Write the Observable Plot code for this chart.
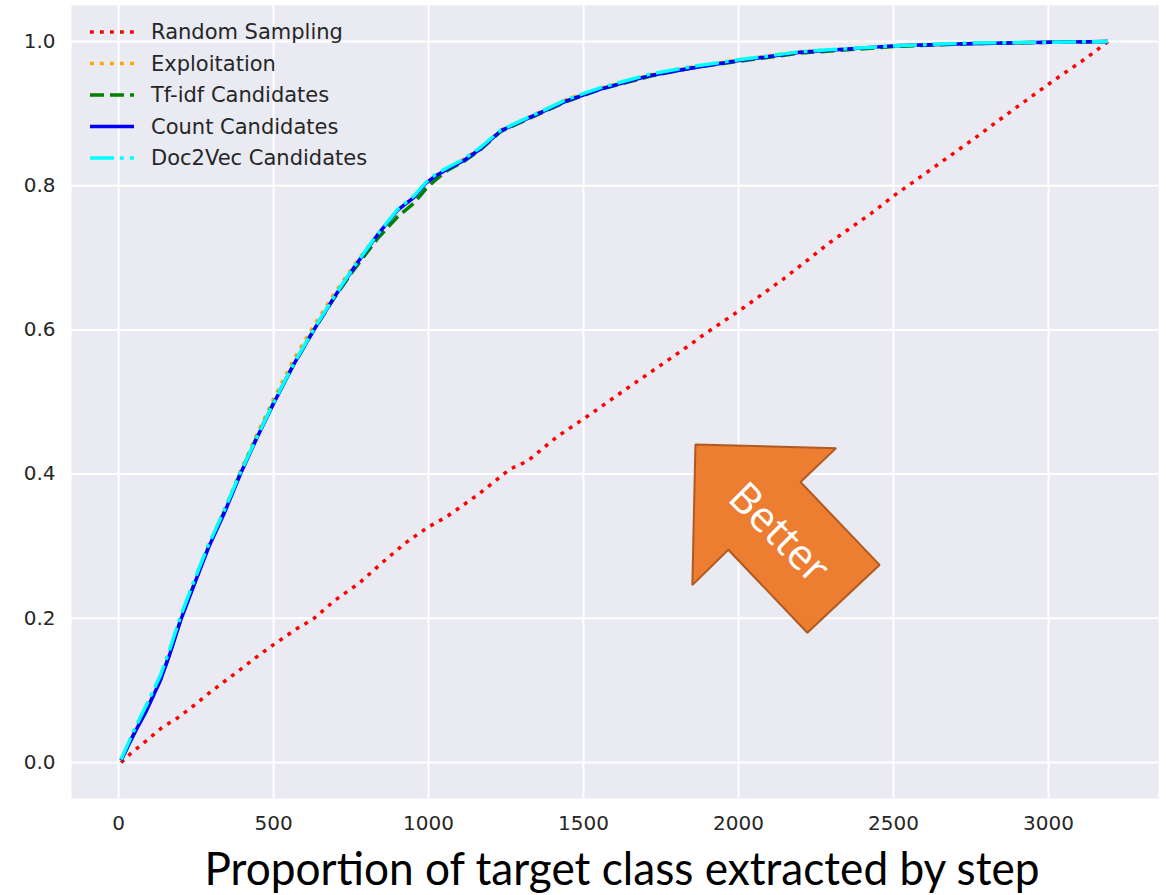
<!DOCTYPE html>
<html>
<head>
<meta charset="utf-8">
<script src="https://cdn.jsdelivr.net/npm/d3@7"></script>
<script src="https://cdn.jsdelivr.net/npm/@observablehq/plot@0.6"></script>
<style>
  html, body { margin: 0; padding: 0; background: #ffffff; }
  #chart { width: 1166px; height: 895px; }
</style>
</head>
<body>
<div id="chart"></div>
<script>
// ---- Data ----
const seriesNames = ["Random Sampling", "Exploitation", "Tf-idf Candidates", "Count Candidates", "Doc2Vec Candidates"];
const seriesColors = ["#ff0000", "#ffa500", "#008000", "#0000ff", "#00ffff"];
const seriesDash = ["3.8,6.2", "3.8,6.2", "14,6", null, "24,6,3.8,6"];

const xTicks = [0, 500, 1000, 1500, 2000, 2500, 3000];
const yTicks = [0.0, 0.2, 0.4, 0.6, 0.8, 1.0];

const randomSteps = [8, 38, 89, 139, 191, 243, 291, 343, 393, 441, 492, 573, 628, 698, 777, 850, 924, 997, 1059, 1161, 1263, 1319, 1415, 1522, 1624, 1732, 1839, 1890, 2017, 2146, 2297, 2426, 2501, 2632, 2759, 2888, 3017, 3125, 3192];
const randomSampling = [0.0, 0.012, 0.030, 0.048, 0.062, 0.079, 0.096, 0.113, 0.129, 0.145, 0.161, 0.185, 0.199, 0.225, 0.249, 0.277, 0.304, 0.326, 0.341, 0.372, 0.407, 0.418, 0.452, 0.483, 0.514, 0.546, 0.578, 0.594, 0.631, 0.671, 0.722, 0.761, 0.786, 0.826, 0.865, 0.906, 0.946, 0.978, 1.0];

const steps = [8, 50, 90, 135, 165, 200, 245, 290, 340, 393, 447, 500, 566, 630, 695, 760, 834, 900, 953, 990, 1017, 1060, 1114, 1170, 1232, 1318, 1447, 1555, 1716, 1845, 2006, 2200, 2500, 2737, 3006, 3192];
const exploitation = [0.003, 0.041, 0.074, 0.116, 0.152, 0.199, 0.250, 0.301, 0.349, 0.404, 0.456, 0.504, 0.560, 0.606, 0.650, 0.690, 0.732, 0.765, 0.785, 0.802, 0.812, 0.824, 0.837, 0.853, 0.877, 0.894, 0.920, 0.935, 0.954, 0.964, 0.975, 0.986, 0.994, 0.997, 0.999, 1.0];
const tfidf = [0.003, 0.040, 0.073, 0.115, 0.151, 0.198, 0.249, 0.299, 0.347, 0.402, 0.452, 0.499, 0.553, 0.600, 0.644, 0.684, 0.726, 0.757, 0.776, 0.795, 0.806, 0.821, 0.834, 0.851, 0.875, 0.892, 0.917, 0.934, 0.952, 0.963, 0.973, 0.984, 0.993, 0.997, 0.999, 1.0];
const countCand = [0.003, 0.040, 0.072, 0.114, 0.150, 0.197, 0.248, 0.298, 0.345, 0.400, 0.451, 0.498, 0.553, 0.600, 0.645, 0.687, 0.731, 0.766, 0.784, 0.803, 0.812, 0.823, 0.835, 0.852, 0.876, 0.893, 0.918, 0.934, 0.953, 0.963, 0.974, 0.985, 0.994, 0.997, 0.999, 1.0];
const doc2vec = [0.004, 0.045, 0.080, 0.121, 0.157, 0.203, 0.254, 0.302, 0.349, 0.402, 0.452, 0.499, 0.554, 0.601, 0.646, 0.688, 0.732, 0.767, 0.786, 0.804, 0.814, 0.825, 0.837, 0.854, 0.877, 0.894, 0.920, 0.936, 0.955, 0.965, 0.975, 0.986, 0.994, 0.998, 0.999, 1.0];

// Annotation arrow ("Better"), in data coordinates
const arrowX = [1861, 2315, 2200, 2455, 2222, 1967, 1851];
const arrowY = [0.441, 0.436, 0.389, 0.274, 0.180, 0.295, 0.246];
const arrowLabel = ["Better"];
const arrowLabelX = [2130];
const arrowLabelY = [0.318];

const xLabel = "Proportion of target class extracted by step";

// ---- Build tables ----
const ySeries = [randomSampling, exploitation, tfidf, countCand, doc2vec];
const xSeries = [randomSteps, steps, steps, steps, steps];
const tables = ySeries.map((ys, i) => ys.map((y, j) => ({x: xSeries[i][j], y})));
const arrowPts = arrowX.map((x, i) => ({x, y: arrowY[i]}));

const lineMarks = tables.map((t, i) => Plot.line(t, {
  x: "x", y: "y",
  stroke: seriesColors[i],
  strokeWidth: 3.5,
  strokeDasharray: seriesDash[i] || undefined,
  strokeLinecap: "butt",
  strokeLinejoin: "round"
}));

const chart = Plot.plot({
  width: 1166,
  height: 895,
  marginLeft: 71,
  marginRight: 8,
  marginTop: 5,
  marginBottom: 97,
  style: {background: "#ffffff", fontFamily: "'DejaVu Sans', sans-serif", fontSize: "20px", color: "#262626", overflow: "visible"},
  x: {domain: [-152, 3355], label: null},
  y: {domain: [-0.05, 1.05], label: null},
  marks: [
    Plot.frame({fill: "#eaeaf2", stroke: null}),
    Plot.gridX(xTicks, {stroke: "#ffffff", strokeOpacity: 1, strokeWidth: 2}),
    Plot.gridY(yTicks, {stroke: "#ffffff", strokeOpacity: 1, strokeWidth: 2}),
    Plot.axisX(xTicks, {tickSize: 0, tickPadding: 17, fontSize: 20, label: null, tickFormat: d3.format("d"), fill: "#262626"}),
    Plot.axisY(yTicks, {tickSize: 0, tickPadding: 16, fontSize: 20, label: null, tickFormat: d3.format(".1f"), fill: "#262626"}),
    ...lineMarks,
    Plot.line(arrowPts, {x: "x", y: "y", curve: "linear-closed", fill: "#ed7d31", stroke: "#ae5a21", strokeWidth: 2, strokeLinejoin: "miter"}),
    Plot.text(arrowLabel, {x: arrowLabelX, y: arrowLabelY, text: d => d, rotate: 45, fill: "#ffffff", fontSize: 42, fontFamily: "'Open Sans', Lato, sans-serif"})
  ]
});

document.getElementById("chart").appendChild(chart);

// ---- Legend (no frame, top-left inside axes) ----
const svg = d3.select(chart);
const lg = svg.append("g").attr("class", "legend").attr("text-anchor", "start");
seriesNames.forEach((name, i) => {
  const yy = 32 + i * 31.5;
  lg.append("line")
    .attr("x1", 90).attr("x2", 134).attr("y1", yy).attr("y2", yy)
    .attr("stroke", seriesColors[i]).attr("stroke-width", 3.5)
    .attr("stroke-dasharray", seriesDash[i] || null);
  lg.append("text")
    .attr("x", 151).attr("y", yy).attr("dy", "0.35em")
    .attr("text-anchor", "start")
    .attr("font-family", "'DejaVu Sans', sans-serif").attr("font-size", 21)
    .attr("fill", "#262626").text(name);
});

// ---- X axis title ----
svg.append("text")
  .attr("x", 622).attr("y", 885)
  .attr("text-anchor", "middle")
  .attr("font-family", "Lato, 'Open Sans', sans-serif")
  .attr("font-size", 47)
  .attr("fill", "#000000")
  .attr("textLength", 835)
  .attr("lengthAdjust", "spacingAndGlyphs")
  .text(xLabel);
</script>
</body>
</html>
